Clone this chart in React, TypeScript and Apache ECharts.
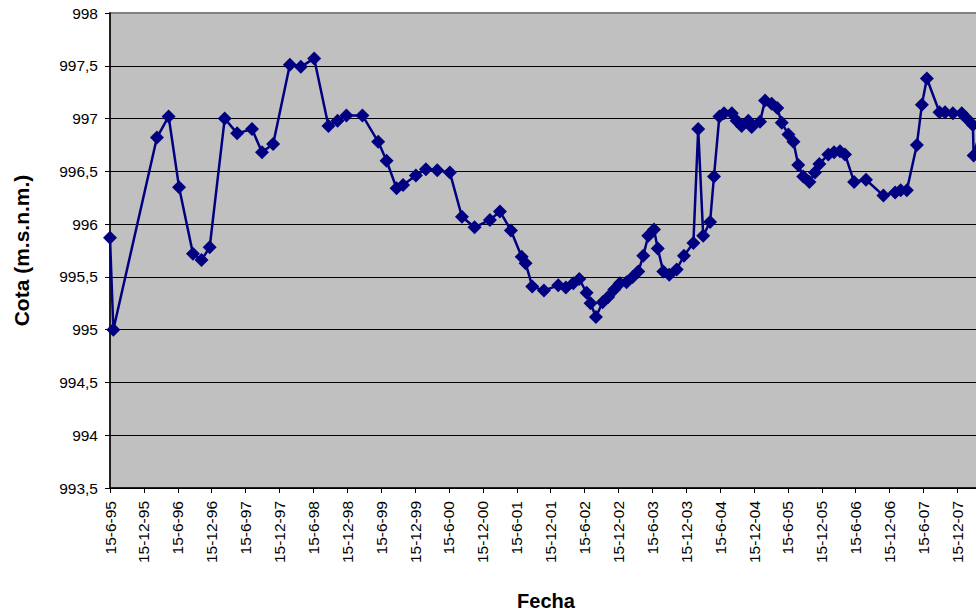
import React, { useEffect, useRef } from "react";
import * as echarts from "echarts";

// Fechas de medición (aprox.)
const fechas: string[] = [
  "1995-06-15", "1995-07-03", "1996-02-23", "1996-04-26", "1996-06-21", "1996-09-04",
  "1996-10-20", "1996-12-03", "1997-02-22", "1997-04-30", "1997-07-19", "1997-09-11",
  "1997-11-10", "1998-02-08", "1998-04-08", "1998-06-19", "1998-09-04", "1998-10-23",
  "1998-12-10", "1999-03-06", "1999-05-30", "1999-07-14", "1999-09-06", "1999-10-11",
  "1999-12-19", "2000-02-11", "2000-04-12", "2000-06-19", "2000-08-23", "2000-10-30",
  "2001-01-21", "2001-03-16", "2001-05-14", "2001-07-11", "2001-08-01", "2001-09-06",
  "2001-11-08", "2002-01-24", "2002-03-06", "2002-04-15", "2002-05-17", "2002-06-26",
  "2002-07-17", "2002-08-15", "2002-09-20", "2002-10-20", "2002-11-22", "2002-12-22",
  "2003-01-27", "2003-03-01", "2003-03-31", "2003-04-27", "2003-05-24", "2003-06-24",
  "2003-07-14", "2003-08-13", "2003-09-14", "2003-10-24", "2003-12-02", "2004-01-22",
  "2004-02-17", "2004-03-15", "2004-04-21", "2004-05-12", "2004-06-10", "2004-07-05",
  "2004-08-16", "2004-09-11", "2004-10-08", "2004-11-13", "2004-12-01", "2005-01-15",
  "2005-02-11", "2005-03-19", "2005-04-18", "2005-05-12", "2005-06-17", "2005-07-14",
  "2005-08-09", "2005-09-05", "2005-10-08", "2005-11-07", "2005-12-01", "2006-01-18",
  "2006-02-18", "2006-03-22", "2006-04-18", "2006-06-06", "2006-08-09", "2006-11-11",
  "2007-01-13", "2007-02-12", "2007-03-17", "2007-05-10", "2007-06-06", "2007-07-03",
  "2007-09-09", "2007-10-09", "2007-11-20", "2008-01-07", "2008-02-03", "2008-03-07",
  "2008-03-11", "2008-04-25",
];

// Cota (m.s.n.m.)
const cota: number[] = [
  995.87, 995.0, 996.82, 997.02, 996.35, 995.72,
  995.66, 995.78, 997.0, 996.86, 996.9, 996.68,
  996.76, 997.51, 997.49, 997.57, 996.93, 996.98,
  997.03, 997.03, 996.78, 996.6, 996.34, 996.37,
  996.46, 996.52, 996.51, 996.49, 996.07, 995.97,
  996.04, 996.12, 995.94, 995.69, 995.63, 995.41,
  995.37, 995.42, 995.4, 995.44, 995.48, 995.35,
  995.25, 995.12, 995.26, 995.31, 995.38, 995.44,
  995.45, 995.5, 995.55, 995.7, 995.89, 995.95,
  995.77, 995.55, 995.52, 995.57, 995.7, 995.82,
  996.9, 995.89, 996.02, 996.45, 997.02, 997.05,
  997.05, 996.98, 996.93, 996.98, 996.92, 996.97,
  997.17, 997.14, 997.1, 996.96, 996.85, 996.78,
  996.56, 996.45, 996.4, 996.49, 996.57, 996.66,
  996.68, 996.69, 996.66, 996.4, 996.42, 996.27,
  996.3, 996.32, 996.32, 996.75, 997.13, 997.38,
  997.06, 997.06, 997.05, 997.05, 997.0, 996.94,
  996.65, 996.95,
];

const yTicks: number[] = [993.5, 994, 994.5, 995, 995.5, 996, 996.5, 997, 997.5, 998];

const ORIGIN = Date.UTC(1995, 5, 15);
const HALF_YEAR = 182.625;
const toDays = (s: string) => {
  const [y, m, d] = s.split("-").map(Number);
  return (Date.UTC(y, m - 1, d) - ORIGIN) / 86400000;
};

const fmtDate = (v: number) => {
  const n = Math.round(v / HALF_YEAR);
  if (Math.abs(v - n * HALF_YEAR) > 1) return "";
  const year = 95 + Math.floor(n / 2);
  const month = n % 2 === 0 ? 6 : 12;
  const yy = String(year % 100).padStart(2, "0");
  return `15-${month}-${yy}`;
};

export default function App() {
  const ref = useRef<HTMLDivElement>(null);
  useEffect(() => {
    if (!ref.current) return;
    const chart = echarts.init(ref.current, undefined, { renderer: "svg" });
    const data = fechas.map((f, i) => [toDays(f), cota[i]]);
    const xMax = toDays(fechas[fechas.length - 1]);
    const font = "Arial, 'Liberation Sans', sans-serif";
    chart.setOption({
      animation: false,
      backgroundColor: "#ffffff",
      grid: {
        left: 110,
        right: 1000 - 982,
        top: 13,
        bottom: 616 - 488,
        show: true,
        backgroundColor: "#C0C0C0",
        borderColor: "#808080",
        borderWidth: 2,
      },
      xAxis: {
        type: "value",
        min: 0,
        max: xMax,
        interval: HALF_YEAR,
        name: "Fecha",
        nameLocation: "middle",
        nameGap: 103,
        nameTextStyle: { fontFamily: font, fontSize: 20, fontWeight: "bold", color: "#000" },
        axisLine: { show: true, onZero: false, lineStyle: { color: "#000", width: 1.5 } },
        axisTick: { show: true, length: 5, lineStyle: { color: "#000" } },
        axisLabel: {
          rotate: 90,
          margin: 13,
          fontFamily: font,
          fontSize: 15.5,
          color: "#000",
          showMaxLabel: false,
          formatter: fmtDate,
        },
        splitLine: { show: false },
      },
      yAxis: {
        type: "value",
        min: yTicks[0],
        max: yTicks[yTicks.length - 1],
        interval: 0.5,
        name: "Cota (m.s.n.m.)",
        nameLocation: "middle",
        nameGap: 78,
        nameTextStyle: { fontFamily: font, fontSize: 21, fontWeight: "bold", color: "#000" },
        axisLine: { show: true, lineStyle: { color: "#000", width: 1.5 } },
        axisTick: { show: true, length: 5, lineStyle: { color: "#000" } },
        axisLabel: {
          margin: 12,
          fontFamily: font,
          fontSize: 15.5,
          color: "#000",
          formatter: (v: number) => String(v).replace(".", ","),
        },
        splitLine: { show: true, showMaxLine: false, lineStyle: { color: "#000", width: 1 } },
      },
      series: [
        {
          type: "line",
          data,
          symbol: "diamond",
          symbolSize: 14,
          showAllSymbol: true,
          lineStyle: { color: "#000080", width: 2.5 },
          itemStyle: { color: "#000080" },
          clip: true,
        },
      ],
    });
    return () => chart.dispose();
  }, []);
  return (
    <div style={{ position: "fixed", left: 0, top: 0, width: 976, height: 616, overflow: "hidden", background: "#fff" }}>
      <div ref={ref} style={{ width: 1000, height: 616 }} />
    </div>
  );
}
